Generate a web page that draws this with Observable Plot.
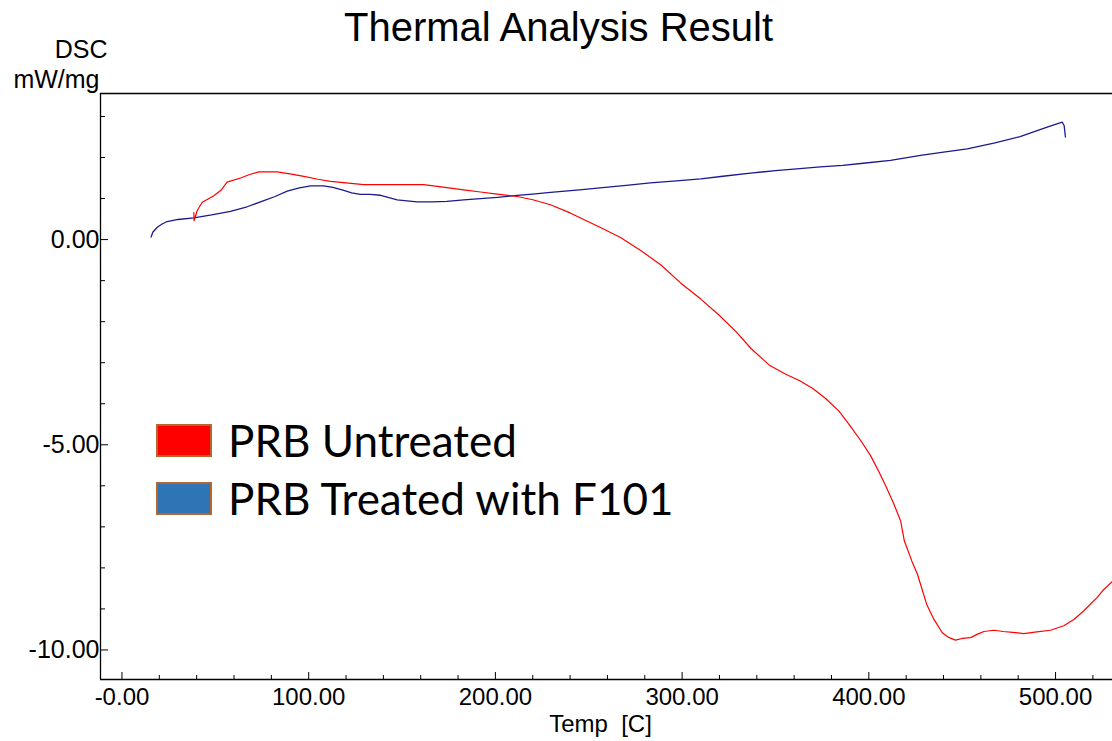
<!DOCTYPE html>
<html>
<head>
<meta charset="utf-8">
<script src="https://cdn.jsdelivr.net/npm/d3@7"></script>
<script src="https://cdn.jsdelivr.net/npm/@observablehq/plot@0.6"></script>
<style>
  html, body { margin: 0; padding: 0; background: #fff; }
  #wrap { position: relative; width: 1112px; height: 741px; }
  #legend { position: absolute; left: 156px; top: 411px; font-family: Lato, "Open Sans", sans-serif; font-size: 44px; color: #000; }
  .item { display: flex; align-items: center; height: 58px; }
  .sw { width: 52px; height: 29px; border: 2px solid #b7652e; margin-right: 16px; }
</style>
</head>
<body>
<div id="wrap"></div>
<script>
// Series: PRB Untreated (red)
const untreatedTemp = [38.5,38.6,40.3,43,49.2,53,56.3,63.5,68,73.3,83.1,90,97.4,105,111.7,120,129.5,145,161.6,172,183,192,201,211.7,220,229.5,240,256,267,278,289,299,310,320,329,337,347,355,363,370,377,384,390,396,401,405,409,413,417,419,423,426,431,434.8,439.3,443,446.4,450,454.5,458,461.6,467,472,477,483,490,497.3,504.4,510,515,522.3,526,530.4];
const untreatedDSC = [0.66,0.46,0.71,0.91,1.07,1.20,1.40,1.50,1.58,1.65,1.65,1.60,1.54,1.47,1.42,1.38,1.34,1.34,1.34,1.28,1.21,1.16,1.11,1.05,0.97,0.85,0.65,0.30,0.05,-0.27,-0.63,-1.05,-1.45,-1.85,-2.25,-2.66,-3.07,-3.27,-3.44,-3.63,-3.88,-4.18,-4.54,-4.92,-5.27,-5.62,-6.00,-6.40,-6.85,-7.34,-7.83,-8.15,-8.89,-9.25,-9.58,-9.70,-9.76,-9.72,-9.70,-9.62,-9.55,-9.52,-9.55,-9.57,-9.60,-9.56,-9.52,-9.41,-9.25,-9.05,-8.72,-8.52,-8.33];

// Series: PRB Treated with F101 (navy)
const treatedTemp = [15.6,16.5,18.9,21.5,24.2,30,38.5,48,58.1,67,76,82,88.5,95,101,108,113,118.8,123,127.7,133,138.5,143,147.4,158,166,174,183,192,201,210,220,229.5,245,256,270,283,297,310,323,336.6,350,363,374,386,397,411.6,427.7,440,452.7,467,481,495.5,503.6,504.6,505.3];
const treatedDSC = [0.06,0.18,0.30,0.38,0.44,0.49,0.53,0.60,0.69,0.80,0.95,1.05,1.18,1.26,1.31,1.31,1.27,1.20,1.14,1.10,1.10,1.08,1.02,0.97,0.92,0.92,0.93,0.97,1.00,1.03,1.07,1.11,1.15,1.21,1.26,1.32,1.38,1.43,1.48,1.55,1.62,1.68,1.73,1.77,1.81,1.86,1.93,2.05,2.13,2.21,2.35,2.51,2.74,2.86,2.78,2.50];

// Axes / ticks
const xDomain = [-11.5, 530.5];
const yDomain = [-10.72, 3.56];
const xMajorTicks = [0, 100, 200, 300, 400, 500];
const xTickLabels = ["-0.00", "100.00", "200.00", "300.00", "400.00", "500.00"];
const xMinorTicks = [20, 40, 60, 80, 120, 140, 160, 180, 220, 240, 260, 280, 320, 340, 360, 380, 420, 440, 460, 480, 520];
const yMajorTicks = [0, -5, -10];
const yTickLabels = ["0.00", "-5.00", "-10.00"];
const yMinorTicks = [3, 2, 1, -1, -2, -3, -4, -6, -7, -8, -9];

const title = "Thermal Analysis Result";
const yLabelLines = ["DSC", "mW/mg"];
const xLabel = "Temp\u00a0\u00a0[C]";
const seriesNames = ["PRB Untreated", "PRB Treated with F101"];
const seriesColors = ["#ff0000", "#2e75b6"];
const lineColors = ["#ff0000", "#1a1a8e"];

const untreated = untreatedTemp.map((t, i) => ({t, v: untreatedDSC[i]}));
const treated = treatedTemp.map((t, i) => ({t, v: treatedDSC[i]}));

const font = "'Liberation Sans', Arial, sans-serif";

const chart = Plot.plot({
  width: 1112,
  height: 741,
  marginLeft: 100,
  marginRight: 0,
  marginTop: 93,
  marginBottom: 62,
  style: {fontFamily: font, fontSize: "24px", color: "#000", background: "#fff", overflow: "visible"},
  x: {domain: xDomain},
  y: {domain: yDomain},
  marks: [
    // frame
    Plot.ruleX([xDomain[0]], {stroke: "#000", strokeWidth: 1.3}),
    Plot.ruleY([yDomain[1]], {stroke: "#000", strokeWidth: 1.3}),
    Plot.ruleY([yDomain[0]], {stroke: "#000", strokeWidth: 1.3}),
    // ticks (inward)
    Plot.axisY(yMajorTicks, {tickSize: -8, fill: "none", label: null, stroke: "#000"}),
    Plot.axisY(yMinorTicks, {tickSize: -5, fill: "none", label: null, stroke: "#000"}),
    Plot.axisX(xMajorTicks, {tickSize: -7, fill: "none", label: null, stroke: "#000"}),
    Plot.axisX(xMinorTicks, {tickSize: -4, fill: "none", label: null, stroke: "#000"}),
    // tick labels
    Plot.axisY(yMajorTicks, {tickSize: 0, tickPadding: 1, label: null, fontSize: 25,
      tickFormat: d => yTickLabels[yMajorTicks.indexOf(d)]}),
    Plot.axisX(xMajorTicks, {tickSize: 0, tickPadding: 8, label: null, fontSize: 24,
      tickFormat: d => xTickLabels[xMajorTicks.indexOf(d)]}),
    // data lines
    Plot.line(treated, {x: "t", y: "v", stroke: lineColors[1], strokeWidth: 1.3, clip: true}),
    Plot.line(untreated, {x: "t", y: "v", stroke: lineColors[0], strokeWidth: 1.2, clip: true}),
    // title and labels
    Plot.text([title], {text: d => d, frameAnchor: "top", dx: -48, dy: -53, lineAnchor: "bottom", fontSize: 40}),
    Plot.text([yLabelLines[0]], {text: d => d, frameAnchor: "top-left", textAnchor: "end", dx: 7, dy: -36, lineAnchor: "bottom", fontSize: 25}),
    Plot.text([yLabelLines[1]], {text: d => d, frameAnchor: "top-left", textAnchor: "end", dx: -1, dy: -6, lineAnchor: "bottom", fontSize: 25}),
    Plot.text([xLabel], {text: d => d, frameAnchor: "bottom", dx: -6, dy: 52, lineAnchor: "bottom", fontSize: 24})
  ]
});

const wrap = document.getElementById("wrap");
wrap.appendChild(chart);

const legend = document.createElement("div");
legend.id = "legend";
seriesNames.forEach((name, i) => {
  const item = document.createElement("div");
  item.className = "item";
  const sw = document.createElement("div");
  sw.className = "sw";
  sw.style.background = seriesColors[i];
  const label = document.createElement("span");
  label.textContent = name;
  item.appendChild(sw);
  item.appendChild(label);
  legend.appendChild(item);
});
wrap.appendChild(legend);
</script>
</body>
</html>
